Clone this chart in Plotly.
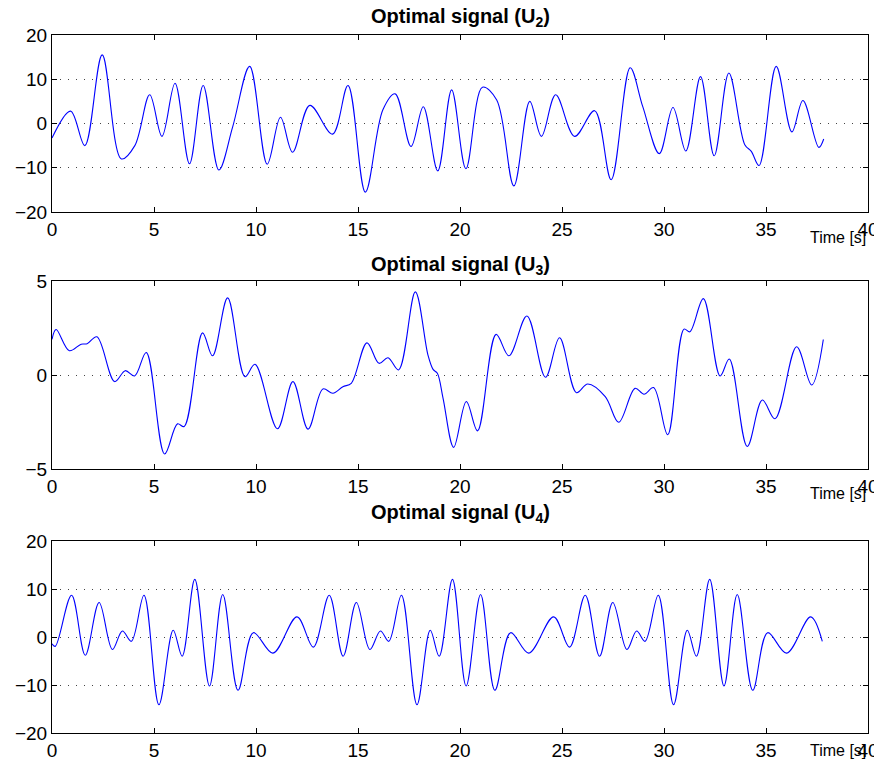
import plotly.graph_objects as go
from plotly.subplots import make_subplots

# ---- data ----
t2 = [0, 0.91, 1.61, 2.46, 3.40, 4.06, 4.79, 5.39, 6.03, 6.74, 7.41, 8.18, 8.86, 9.69,
      10.55, 11.2, 11.79, 12.64, 13.75, 14.51, 15.36, 16.22, 16.82, 17.6, 18.2, 18.91,
      19.59, 20.29, 21.1, 21.8, 22.64, 23.42, 23.99, 24.69, 25.62, 26.6, 27.41, 28.34,
      28.96, 29.77, 30.44, 31.07, 31.79, 32.46, 33.18, 33.96, 34.28, 34.66, 35.5, 36.27,
      36.81, 37.59, 37.83]
u2 = [-3.3, 2.8, -5.0, 15.5, -8.0, -5.0, 6.5, -2.9, 9.1, -9.1, 8.6, -10.5, -0.7, 12.9,
      -9.2, 1.4, -6.5, 4.1, -2.4, 8.6, -15.5, 3.1, 6.7, -5.2, 3.8, -10.7,
      7.6, -10.2, 8.2, 5.3, -14.1, 5.0, -2.9, 6.5, -2.9, 2.9, -12.7, 12.6,
      3.8, -6.8, 3.6, -6.2, 10.6, -7.3, 11.4, -4.8, -6.3, -9.5, 12.9, -1.9,
      5.2, -5.4, -3.5]

t3 = [0, 0.2, 0.85, 1.43, 1.72, 2.2, 3.07, 3.59, 4.05, 4.62, 5.52, 6.15, 6.48, 7.38,
      7.87, 8.61, 9.46, 9.95, 11.05, 11.81, 12.55, 13.28, 13.77, 14.26, 14.67, 15.44,
      16.03, 16.47, 16.99, 17.81, 18.43, 18.68, 18.89, 19.17, 19.69, 20.31, 20.86,
      21.77, 22.4, 23.28, 24.19, 24.88, 25.71, 26.26, 27.12, 27.78, 28.58, 29.02,
      29.49, 30.18, 30.98, 31.27, 31.93, 32.75, 33.2, 34.08, 34.82, 35.44, 36.5,
      37.24, 37.81]
u3 = [1.9, 2.42, 1.29, 1.64, 1.66, 2.03, -0.35, 0.23, -0.05, 1.2, -4.2, -2.6, -2.74, 2.24,
      1.02, 4.1, -0.09, 0.57, -2.86, -0.35, -2.88, -0.74, -0.97, -0.62, -0.44, 1.71,
      0.62, 0.92, 0.27, 4.42, 1.06, 0.3, 0.09, -1.24, -3.85, -1.41, -2.97,
      2.16, 1.02, 3.14, -0.12, 1.98, -0.94, -0.48, -1.15, -2.51, -0.71, -1.02,
      -0.67, -3.18, 2.44, 2.3, 4.06, -0.05, 0.85, -3.8, -1.33, -2.33, 1.5,
      -0.53, 1.89]

t4 = [0, 0.16, 0.96, 1.63, 2.31, 2.96, 3.45, 3.89, 4.51, 5.24, 5.94, 6.38, 7.0, 7.72,
      8.37, 9.12, 9.87, 10.83, 12.01, 12.81, 13.59, 14.27, 14.92, 15.58, 16.1, 16.51,
      17.13, 17.89, 18.54, 18.98, 19.63, 20.3, 21.01, 21.71, 22.48, 23.37, 24.59,
      25.37, 26.14, 26.84, 27.49, 28.18, 28.66, 29.07, 29.72, 30.47, 31.14, 31.59,
      32.24, 32.94, 33.59, 34.35, 35.08, 36.01, 37.19, 37.76]
u4 = [-1.4, -1.95, 8.7, -3.8, 7.2, -2.6, 1.25, -0.9, 8.7, -14.1, 1.4, -4.0, 12.0, -10.2,
      8.85, -11.1, 0.9, -3.35, 4.2, -2.1, 8.7, -4.0, 7.2, -2.6, 1.25, -0.9,
      8.7, -14.1, 1.4, -4.0, 12.0, -10.2, 8.85, -11.1, 0.9, -3.35, 4.2,
      -2.1, 8.7, -4.0, 7.2, -2.6, 1.25, -0.9, 8.7, -14.1, 1.4, -4.0,
      12.0, -10.2, 8.85, -11.1, 0.9, -3.35, 4.2, -0.9]

titles = ["Optimal signal (U<sub>2</sub>)", "Optimal signal (U<sub>3</sub>)",
          "Optimal signal (U<sub>4</sub>)"]
x_ticks = [0, 5, 10, 15, 20, 25, 30, 35, 40]
y_ticks = [[-20, -10, 0, 10, 20], [-5, 0, 5], [-20, -10, 0, 10, 20]]
y_ranges = [[-20, 20], [-5, 5], [-20, 20]]
x_label = "Time [s]"

# the page body adds an 8px offset, so the figure is drawn 8px smaller and all
# pixel positions below are the reference positions minus 8
OFF = 8
W, H = 882 - OFF, 771 - OFF
FONT = "Arial, Liberation Sans, Helvetica, sans-serif"

L, R, T, B = 52 - OFF, 868 - OFF, 35 - OFF, 733 - OFF
PW, PH = R - L, B - T


def px_x(x):
    return (x - OFF - L) / PW


def px_y(y):
    return 1 - (y - OFF - T) / PH


fig = make_subplots(rows=3, cols=1)

series = [(t2, u2), (t3, u3), (t4, u4)]
for i, (t, u) in enumerate(series):
    fig.add_trace(go.Scatter(x=t, y=u, mode="lines",
                             line=dict(color="#0000ff", width=1.1, shape="spline", smoothing=1.0),
                             showlegend=False, hoverinfo="skip"), row=i + 1, col=1)

boxes = [(35, 212), (281, 469), (541, 733)]   # reference pixel rows

for i, (top, bot) in enumerate(boxes):
    xa = "xaxis" if i == 0 else f"xaxis{i+1}"
    ya = "yaxis" if i == 0 else f"yaxis{i+1}"
    fig.layout[xa].update(
        domain=[0, 1], range=[0, 40], tickvals=x_ticks, automargin=False,
        ticks="inside", ticklen=5, tickcolor="black", tickwidth=1,
        showline=True, linecolor="black", linewidth=1, mirror="allticks",
        showgrid=False, zeroline=False,
        tickfont=dict(family=FONT, size=19, color="black"))
    fig.layout[ya].update(
        domain=[max(0, px_y(bot)), min(1, px_y(top))], range=y_ranges[i],
        tickvals=y_ticks[i], automargin=False,
        ticks="inside", ticklen=5, tickcolor="black", tickwidth=1,
        showline=True, linecolor="black", linewidth=1, mirror="allticks",
        showgrid=True, gridcolor="#444444", griddash="1px,7px", gridwidth=1,
        zeroline=False,
        tickfont=dict(family=FONT, size=19, color="black"))

annotations = []
title_y = [18, 265, 513]
label_y = [238, 493, 750]
for i in range(3):
    annotations.append(dict(text="<b>" + titles[i] + "</b>", x=px_x(460),
                            y=px_y(title_y[i]), xref="paper", yref="paper",
                            xanchor="center", yanchor="middle", showarrow=False,
                            font=dict(family=FONT, size=20, color="black")))
    annotations.append(dict(text=x_label, x=px_x(868), y=px_y(label_y[i]),
                            xref="paper", yref="paper", xanchor="right",
                            yanchor="middle", showarrow=False,
                            font=dict(family=FONT, size=16, color="black")))

fig.update_layout(width=W, height=H,
                  margin=dict(l=L, r=W - R, t=T, b=H - B, autoexpand=False),
                  paper_bgcolor="white", plot_bgcolor="white",
                  annotations=annotations)

fig.write_html("out.html")
